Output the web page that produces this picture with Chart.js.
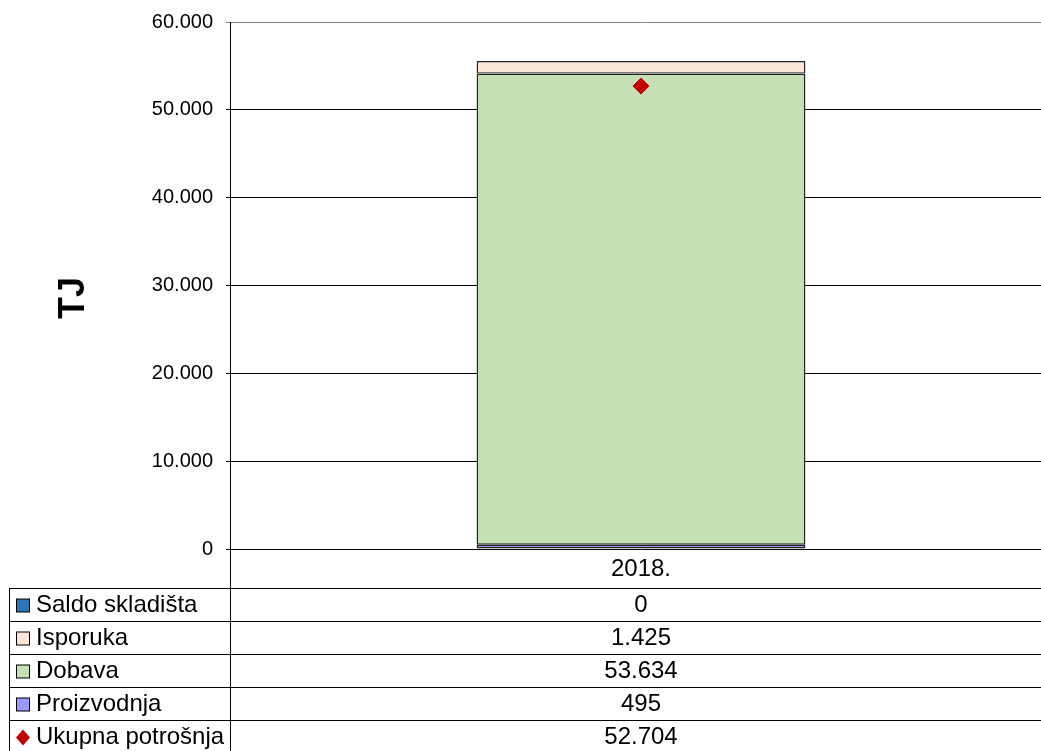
<!DOCTYPE html>
<html>
<head>
<meta charset="utf-8">
<script src="https://cdn.jsdelivr.net/npm/chart.js@4.4.1/dist/chart.umd.min.js"></script>
<style>
  html, body { margin: 0; padding: 0; background: #fff; overflow: hidden; }
  #wrap { width: 1061px; height: 751px; }
</style>
</head>
<body>
<div id="wrap"><canvas id="myChart" width="1061" height="751"></canvas></div>
<script>
// chart values
const categories = ['2018.'];
const saldoSkladista = [0];
const isporuka = [1425];
const dobava = [53634];
const proizvodnja = [495];
const ukupnaPotrosnja = [52704];
const yMax = 60000;
const yStep = 10000;
const unitLabel = 'TJ';

const fmt = v => v.toLocaleString('de-DE');
const FONT = 'Liberation Sans, Arial, sans-serif';

const datasets = [
    { label: 'Proizvodnja', data: proizvodnja, backgroundColor: '#9999FF' },
    { label: 'Dobava', data: dobava, backgroundColor: '#C5E0B4' },
    { label: 'Isporuka', data: isporuka, backgroundColor: '#FBE5D6' },
    { label: 'Saldo skladišta', data: saldoSkladista, backgroundColor: '#2E75B6' }
].map(d => Object.assign(d, {
    type: 'bar',
    stack: 'a',
    borderColor: '#222',
    borderWidth: 1.4,
    borderSkipped: false,
    barPercentage: 0.4,
    categoryPercentage: 1,
    order: 2
}));

datasets.push({
    type: 'line',
    label: 'Ukupna potrošnja',
    data: ukupnaPotrosnja,
    stack: 'b',
    showLine: false,
    pointStyle: 'rectRot',
    pointRadius: 8,
    backgroundColor: '#C00000',
    borderColor: '#C00000',
    order: 1
});

// table rows top -> bottom
const tableRows = ['Saldo skladišta', 'Isporuka', 'Dobava', 'Proizvodnja', 'Ukupna potrošnja'];

const tablePlugin = {
    id: 'dataTable',
    afterDraw(chart) {
        const ctx = chart.ctx;
        const area = chart.chartArea;
        const xs = chart.scales.x;
        const W = chart.width;
        const tableLeft = 9;
        const headTop = area.bottom;
        const headH = 39;
        const rowH = 33;
        const rowsTop = headTop + headH;

        ctx.save();
        ctx.strokeStyle = '#000';
        ctx.lineWidth = 1;

        // vertical line under the axis
        ctx.beginPath();
        ctx.moveTo(area.left + 0.5, area.bottom);
        ctx.lineTo(area.left + 0.5, chart.height);
        ctx.stroke();

        // left border
        ctx.beginPath();
        ctx.moveTo(tableLeft + 0.5, rowsTop);
        ctx.lineTo(tableLeft + 0.5, chart.height);
        ctx.stroke();

        // horizontal lines
        for (let i = 0; i < tableRows.length; i++) {
            const y = Math.round(rowsTop + i * rowH) + 0.5;
            ctx.beginPath();
            ctx.moveTo(tableLeft, y);
            ctx.lineTo(W, y);
            ctx.stroke();
        }

        ctx.font = '24px ' + FONT;
        ctx.fillStyle = '#000';
        ctx.textBaseline = 'middle';

        // header
        ctx.textAlign = 'center';
        categories.forEach((c, i) => {
            ctx.fillText(c, xs.getPixelForValue(i), headTop + headH / 2 + 1);
        });

        tableRows.forEach((name, r) => {
            const ds = chart.data.datasets.find(d => d.label === name);
            const cy = rowsTop + r * rowH + rowH / 2 + 1;
            // legend key
            if (ds.type === 'line') {
                ctx.fillStyle = ds.backgroundColor;
                ctx.beginPath();
                ctx.moveTo(23, cy - 8);
                ctx.lineTo(30, cy);
                ctx.lineTo(23, cy + 8);
                ctx.lineTo(16, cy);
                ctx.closePath();
                ctx.fill();
            } else {
                ctx.fillStyle = ds.backgroundColor;
                ctx.fillRect(16.5, cy - 6.5, 13, 13);
                ctx.strokeRect(16.5, cy - 6.5, 13, 13);
            }
            ctx.fillStyle = '#000';
            ctx.textAlign = 'left';
            ctx.fillText(name, 36, cy);
            ctx.textAlign = 'center';
            ds.data.forEach((v, i) => {
                ctx.fillText(fmt(v), xs.getPixelForValue(i), cy);
            });
        });

        // axis title
        ctx.save();
        ctx.translate(74, 298);
        ctx.rotate(-Math.PI / 2);
        ctx.font = 'bold 36px ' + FONT;
        ctx.textAlign = 'center';
        ctx.fillText(unitLabel, 0, 0);
        ctx.restore();

        ctx.restore();
    }
};

const config = {
    data: { labels: categories, datasets },
    options: {
        responsive: false,
        animation: false,
        layout: { padding: { top: 22, bottom: 202, right: 0, left: 0 } },
        plugins: {
            legend: { display: false },
            tooltip: { enabled: false }
        },
        scales: {
            x: { display: false, stacked: true },
            y: {
                stacked: true,
                min: 0,
                max: yMax,
                afterFit: scale => {
                    scale.width = 230;
                    scale.paddingTop = 0;
                    scale.paddingBottom = 0;
                },
                border: { display: true, color: '#000', width: 1 },
                grid: {
                    color: c => (c.tick && c.tick.value === yMax ? '#808080' : '#000'),
                    lineWidth: 1,
                    tickLength: 4
                },
                ticks: {
                    stepSize: yStep,
                    padding: 13,
                    color: '#000',
                    font: { family: FONT, size: 20 },
                    callback: v => fmt(v)
                }
            }
        }
    },
    plugins: [tablePlugin]
};

const myChart = new Chart(document.getElementById('myChart'), config);
</script>
</body>
</html>
